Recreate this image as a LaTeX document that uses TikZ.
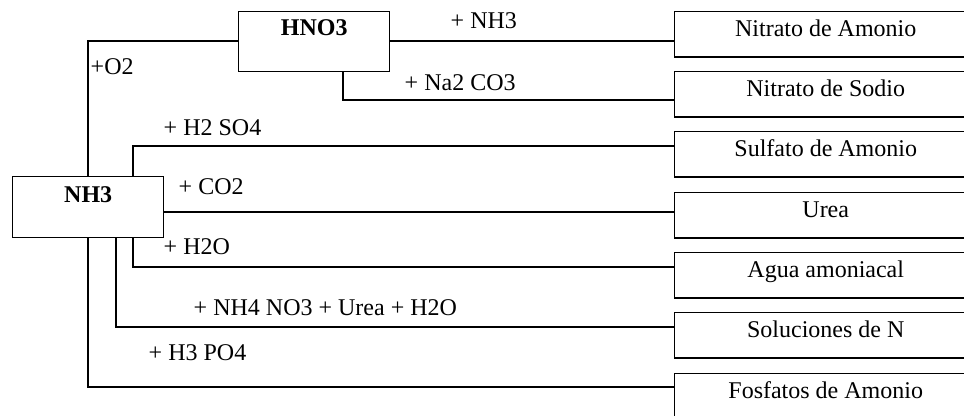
\documentclass[tikz,border=0pt]{standalone}
\usepackage{fontspec}
\setmainfont{Liberation Serif}
\begin{document}
\begin{tikzpicture}[x=0.75pt,y=-0.75pt,line width=1.1pt,
  prod/.style={draw,rectangle,inner sep=0pt,minimum width=226.5pt,text height=18.4pt,text depth=15.4pt,font=\fontsize{18}{21}\selectfont},
  src/.style={draw,rectangle,inner sep=0pt,minimum width=113.25pt,font=\bfseries\fontsize{18}{21}\selectfont},
  reac/.style={anchor=base west,inner sep=0pt,font=\fontsize{18}{21}\selectfont}]
\useasboundingbox (0,0) rectangle (964,415);
\clip (0,0) rectangle (964,415);
% starting materials
\node[src,text height=18pt,text depth=27pt] (hno3) at (238,11) [anchor=north west] {HNO3};
\node[src,text height=19.5pt,text depth=26.25pt] (nh3) at (12,176) [anchor=north west] {NH3};
% products
\node[prod] (nitam) at (674,11) [anchor=north west] {Nitrato de Amonio};
\node[prod] (nitso) at (674,71) [anchor=north west] {Nitrato de Sodio};
\node[prod] (sulf) at (674,131) [anchor=north west] {Sulfato de Amonio};
\node[prod] (urea) at (674,192) [anchor=north west] {Urea};
\node[prod] (agua) at (674,252) [anchor=north west] {Agua amoniacal};
\node[prod] (soln) at (674,312) [anchor=north west] {Soluciones de N};
\node[prod] (fosf) at (674,373) [anchor=north west] {Fosfatos de Amonio};
% turning points
\coordinate (o2) at (88,41);
\coordinate (na) at (343,100);
\coordinate (so4) at (133,146);
\coordinate (co2) at (163,212);
\coordinate (h2o) at (133,267);
\coordinate (nh4) at (116,327);
\coordinate (po4) at (88,387);
% connectors
\draw (o2 |- nh3.north) -- (o2) -- (hno3.west |- o2);
\draw (hno3.east |- o2) -- (nitam.west |- o2);
\draw (na |- hno3.south) -- (na) -- (nitso.west |- na);
\draw (so4 |- nh3.north) -- (so4) -- (sulf.west |- so4);
\draw (co2 -| nh3.east) -- (urea.west |- co2);
\draw (h2o |- nh3.south) -- (h2o) -- (agua.west |- h2o);
\draw (nh4 |- nh3.south) -- (nh4) -- (soln.west |- nh4);
\draw (po4 |- nh3.south) -- (po4) -- (fosf.west |- po4);
% reagents
\node[reac] (lo2) at (90,74) {+O2};
\node[reac] (lnh3) at (450,28) {+ NH3};
\node[reac] (lna) at (404,90) {+ Na2 CO3};
\node[reac] (lso4) at (163,135) {+ H2 SO4};
\node[reac] (lco2) at (178,194) {+ CO2};
\node[reac] (lh2o) at (163,254) {+ H2O};
\node[reac] (lsol) at (193,315) {+ NH4 NO3 + Urea + H2O};
\node[reac] (lpo4) at (148,360) {+ H3 PO4};
\end{tikzpicture}
\end{document}
